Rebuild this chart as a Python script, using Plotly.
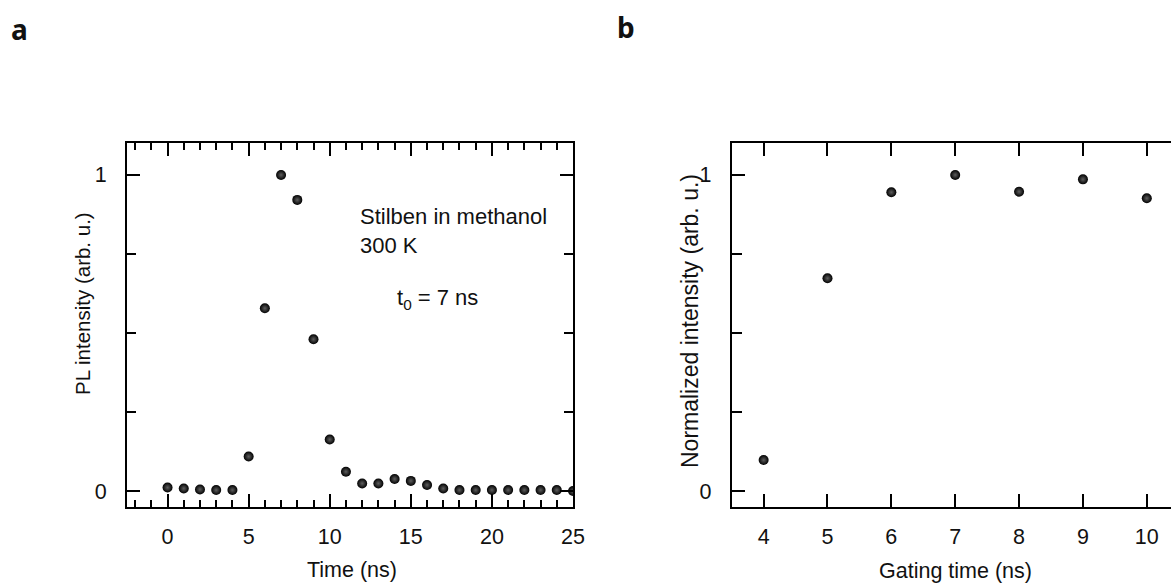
import plotly.graph_objects as go

# ---- data ----
time_ns = list(range(0, 26))
pl_intensity = [0.011, 0.008, 0.005, 0.003, 0.003, 0.109, 0.578, 1.0, 0.921, 0.48,
                0.163, 0.061, 0.024, 0.024, 0.038, 0.032, 0.019, 0.008, 0.003, 0.003,
                0.003, 0.003, 0.003, 0.003, 0.003, 0.0]

gating_time = [4, 5, 6, 7, 8, 9, 10]
norm_intensity = [0.098, 0.673, 0.945, 1.0, 0.947, 0.986, 0.926]

x_ticks_a = [0, 5, 10, 15, 20, 25]
x_ticks_b = [4, 5, 6, 7, 8, 9, 10]
y_ticks = [0, 1]

W, H = 1171, 583
FONT = "Liberation Sans, Arial, sans-serif"
FS = 21.5
INK = "#111111"

marker = dict(size=10, color="black",
              gradient=dict(type="radial", color="#5e5e5e"),
              line=dict(width=0))

fig = go.Figure()
fig.add_trace(go.Scatter(x=time_ns, y=pl_intensity, mode="markers", marker=marker,
                         xaxis="x", yaxis="y", showlegend=False))
fig.add_trace(go.Scatter(x=gating_time, y=norm_intensity, mode="markers", marker=marker,
                         xaxis="x2", yaxis="y2", showlegend=False))

def px(x):
    return x / W

def py(y):
    return 1 - y / H

ydom = [py(507), py(143)]
yrange = [-0.0506, 1.101]

common_axis = dict(showgrid=False, zeroline=False, showline=True, linecolor="black",
                   linewidth=2, ticks="inside", tickcolor="black", tickwidth=2,
                   automargin=False,
                   tickfont=dict(family=FONT, size=FS, color=INK))

layout = dict(
    width=W, height=H, autosize=False,
    margin=dict(l=0, r=0, t=0, b=0, pad=0),
    paper_bgcolor="white", plot_bgcolor="white",
    font=dict(family=FONT, size=FS, color=INK),
    xaxis=dict(common_axis, domain=[px(127), px(573)], range=[-2.5, 25],
               tickvals=x_ticks_a, ticklen=13, mirror="ticks", anchor="y",
               minor=dict(dtick=1, ticklen=7, tickwidth=2, tickcolor="black", ticks="inside"),
               ticklabelstandoff=9),
    yaxis=dict(common_axis, domain=ydom, range=yrange, tickvals=y_ticks, ticklen=13,
               mirror="ticks", anchor="x",
               minor=dict(dtick=0.25, ticklen=9, tickwidth=2, tickcolor="black", ticks="inside"),
               ticklabelstandoff=14),
    xaxis2=dict(common_axis, domain=[px(731.7), 1.0], range=[3.5, 10.379],
                tickvals=x_ticks_b, ticklen=13, mirror="ticks", anchor="y2",
                ticklabelstandoff=9),
    yaxis2=dict(common_axis, domain=ydom, range=yrange, tickvals=y_ticks, ticklen=13,
                mirror=False, anchor="x2",
                minor=dict(dtick=0.25, ticklen=10, tickwidth=2, tickcolor="black", ticks="inside"),
                ticklabelstandoff=14),
    yaxis3=dict(overlaying="y2", anchor="x2", side="right", range=yrange, automargin=False,
                showgrid=False, zeroline=False, showline=False, showticklabels=False,
                ticks="inside", tickvals=y_ticks, ticklen=4, tickwidth=2, tickcolor="black",
                minor=dict(dtick=0.25, ticklen=1.5, tickwidth=2, tickcolor="black", ticks="inside")),
)
fig.update_layout(**layout)

def ann(text, x, y, xanchor="center", yanchor="middle", size=FS, angle=0, bold=False, family=FONT):
    t = f"<b>{text}</b>" if bold else text
    fig.add_annotation(text=t, x=px(x), y=py(y), xref="paper", yref="paper",
                       xanchor=xanchor, yanchor=yanchor, showarrow=False,
                       textangle=angle, font=dict(family=family, size=size, color=INK))

# axis titles
ann("Time (ns)", 352, 570)
ann("PL intensity (arb. u.)", 82, 304, angle=-90, size=20.5)
ann("Gating time (ns)", 955, 571)
ann("Normalized intensity (arb. u.)", 690, 321, angle=-90, size=23)

# panel text
ann("Stilben in methanol", 358, 216, xanchor="left", size=22)
ann("300 K", 358, 245, xanchor="left", size=22)
ann("t<sub>0</sub> = 7 ns", 395, 299, xanchor="left", size=22)

# panel labels
ann("a", 9, 29, xanchor="left", size=28, bold=True, family="Noto Sans, sans-serif")
ann("b", 615, 27, xanchor="left", size=28, bold=True, family="Noto Sans, sans-serif")

post = (
    "document.documentElement.style.margin='0';"
    "document.body.style.margin='0';"
    "document.documentElement.style.overflow='hidden';"
    "document.body.style.overflow='hidden';"
)

fig.write_html("out.html",
               config={"responsive": False, "displayModeBar": False},
               post_script=post)
